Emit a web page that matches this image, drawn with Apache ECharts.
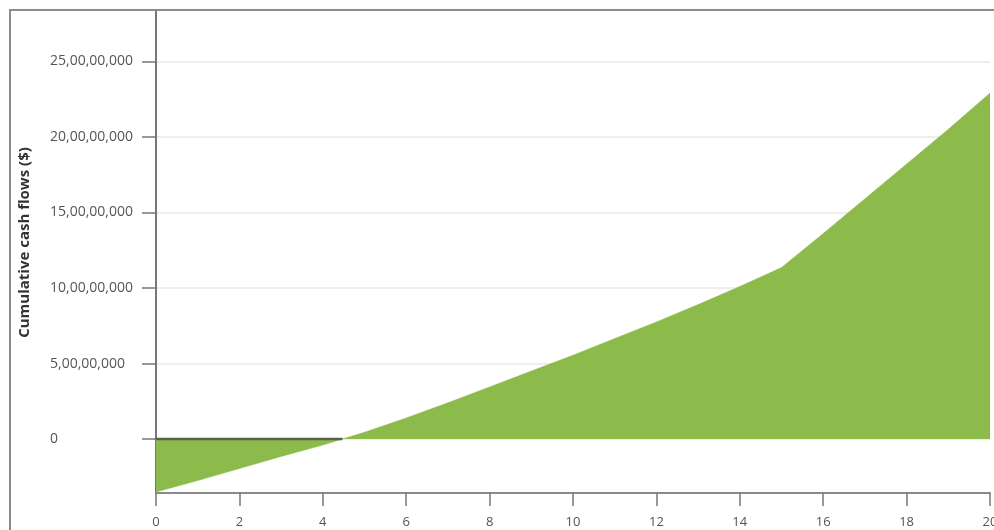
<!DOCTYPE html>
<html>
<head>
<meta charset="utf-8">
<script src="https://cdn.jsdelivr.net/npm/echarts@6/dist/echarts.min.js"></script>
<style>
html,body{margin:0;padding:0;background:#fff;}
#chart{width:994px;height:530px;}
</style>
</head>
<body>
<div id="chart"></div>
<script>
// Years (x values)
var years = [0,1,2,3,4,5,6,7,8,9,10,11,12,13,14,15,16,17,18,19,20];
// Cumulative cash flows ($)
var cumulative = [-35000000,-27500000,-19500000,-11500000,-4000000,4500000,14000000,24000000,34500000,45000000,55500000,66500000,77500000,89000000,101000000,113500000,136000000,159000000,182000000,205000000,229000000];
// Tick values
var yTicks = [0,50000000,100000000,150000000,200000000,250000000];
var xTicks = [0,2,4,6,8,10,12,14,16,18,20];
var yAxisTitle = 'Cumulative cash flows ($)';

function indianFormat(v){
  var neg = v < 0; v = Math.abs(Math.round(v));
  var s = String(v);
  if (s.length <= 3) return (neg?'-':'') + s;
  var last3 = s.slice(-3), rest = s.slice(0,-3);
  var parts = [];
  while (rest.length > 2){ parts.unshift(rest.slice(-2)); rest = rest.slice(0,-2); }
  if (rest.length) parts.unshift(rest);
  return (neg?'-':'') + parts.join(',') + ',' + last3;
}

// zero-crossing derived from data (dark zero baseline over the negative part)
var zeroSeg = [];
for (var i = 0; i < cumulative.length - 1; i++){
  if (cumulative[i] < 0 && cumulative[i+1] >= 0){
    var xc = years[i] + (0 - cumulative[i]) / (cumulative[i+1] - cumulative[i]) * (years[i+1]-years[i]);
    zeroSeg = [[years[0],0],[xc,0]];
    break;
  }
}

var chart = echarts.init(document.getElementById('chart'), null, {renderer:'canvas'});
var font = 'Open Sans, Noto Sans, sans-serif';
chart.setOption({
  animation:false,
  backgroundColor:'#ffffff',
  graphic:[{
    type:'rect', silent:true, z:100,
    shape:{x:10,y:10,width:1200,height:800},
    style:{fill:'none',stroke:'#8c8c8c',lineWidth:2}
  }],
  grid:{left:156, top:10, right:4, bottom:37, containLabel:false, outerBoundsMode:'none'},
  xAxis:{
    type:'value', min:0, max:20, interval:2,
    axisLine:{show:true, onZero:false, lineStyle:{color:'#8a8a8a', width:2}},
    axisTick:{show:true, length:13, lineStyle:{color:'#777', width:1.5}, customValues: xTicks},
    axisLabel:{color:'#555', fontSize:13, fontFamily:font, margin:23, customValues: xTicks},
    splitLine:{show:false}
  },
  yAxis:{
    type:'value', min:-35700000, max:284000000,
    name: yAxisTitle, nameLocation:'middle', nameRotate:90, nameGap:124,
    nameTextStyle:{color:'#333', fontSize:15, fontWeight:'bold', fontFamily:font, padding:[0,0,0,18]},
    axisLine:{show:true, lineStyle:{color:'#777', width:2}},
    axisTick:{show:true, length:14, lineStyle:{color:'#777', width:1.5}, customValues: yTicks},
    axisLabel:{color:'#555', fontSize:14, fontFamily:font, margin:106, align:'left',
      customValues: yTicks, formatter:function(v){return indianFormat(v);}},
    splitLine:{show:true, lineStyle:{color:'#e8e8e8', width:1.5}}
  },
  series:[
    {
      type:'line',
      data: years.map(function(y,i){return [y, cumulative[i]];}),
      showSymbol:false, symbol:'none',
      lineStyle:{width:0.5, color:'#8dbb4b'},
      areaStyle:{color:'#8dbb4b', opacity:1, origin:0},
      z:2
    },
    {
      type:'line',
      data: zeroSeg,
      showSymbol:false, symbol:'none',
      lineStyle:{width:2.5, color:'#56624a'},
      z:3
    }
  ]
});
</script>
</body>
</html>
